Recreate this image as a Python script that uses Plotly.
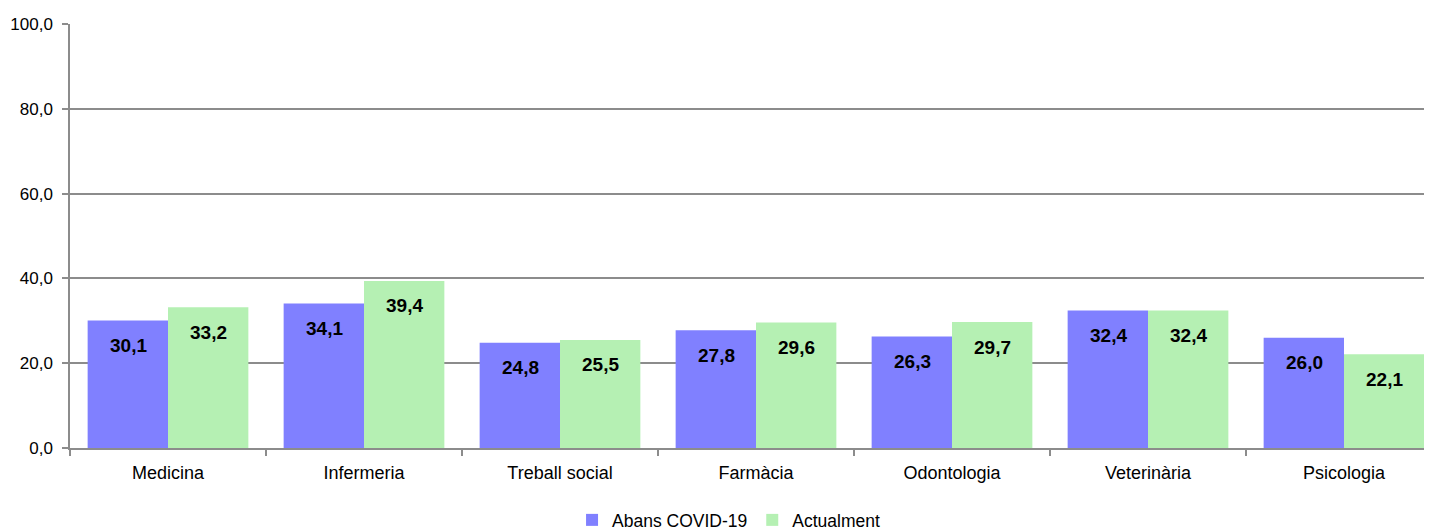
import plotly.graph_objects as go

categories = ["Medicina", "Infermeria", "Treball social", "Farmàcia", "Odontologia", "Veterinària", "Psicologia"]
abans = [30.1, 34.1, 24.8, 27.8, 26.3, 32.4, 26.0]
actualment = [33.2, 39.4, 25.5, 29.6, 29.7, 32.4, 22.1]
series_names = ["Abans COVID-19", "Actualment"]
y_ticks = [0, 20, 40, 60, 80, 100]

FONT = "Liberation Sans, Arial, sans-serif"
colors = ["#8080FF", "#B5F0B3"]

fig = go.Figure()
for name, vals, col in zip(series_names, [abans, actualment], colors):
    fig.add_trace(go.Bar(x=categories, y=vals, name=name, marker=dict(color=col, line=dict(width=0))))

annotations = []
for vals, shift in [(abans, -40), (actualment, 40)]:
    for c, v in zip(categories, vals):
        annotations.append(dict(x=c, y=v, xref="x", yref="y", text=f"{v:.1f}".replace(".", ","),
                                showarrow=False, xshift=shift, yshift=-25, yanchor="middle",
                                font=dict(family=FONT, size=19, color="black", weight="bold")))

fig.update_layout(
    width=1424, height=530,
    margin=dict(l=62, r=0, t=16, b=90),
    paper_bgcolor="white", plot_bgcolor="white",
    barmode="group", bargap=0.18, bargroupgap=0,
    separators=",.",
    font=dict(family=FONT, size=18, color="black"),
    annotations=annotations,
    legend=dict(orientation="h", xref="container", x=0.506, xanchor="center",
                yref="container", y=0.0, yanchor="bottom", font=dict(size=17.5),
                itemwidth=30, traceorder="normal"),
    showlegend=True,
)
fig.update_yaxes(range=[0, 100], tickvals=y_ticks, tickformat=".1f", showgrid=True,
                 gridcolor="#8c8c8c", gridwidth=1.5, showline=True, linecolor="#8c8c8c",
                 linewidth=1.5, ticks="outside", ticklen=6, tickcolor="#8c8c8c", tickwidth=1.5,
                 zeroline=False, ticklabelstandoff=6, automargin=False, tickfont=dict(size=17))
fig.update_xaxes(range=[-0.5, 6.449], showline=True, linecolor="#8c8c8c", linewidth=1.5,
                 ticks="outside", tickson="boundaries", ticklen=6, tickcolor="#8c8c8c", tickwidth=1.5,
                 showgrid=False, automargin=False, ticklabelstandoff=8)

fig.write_html("out.html")
